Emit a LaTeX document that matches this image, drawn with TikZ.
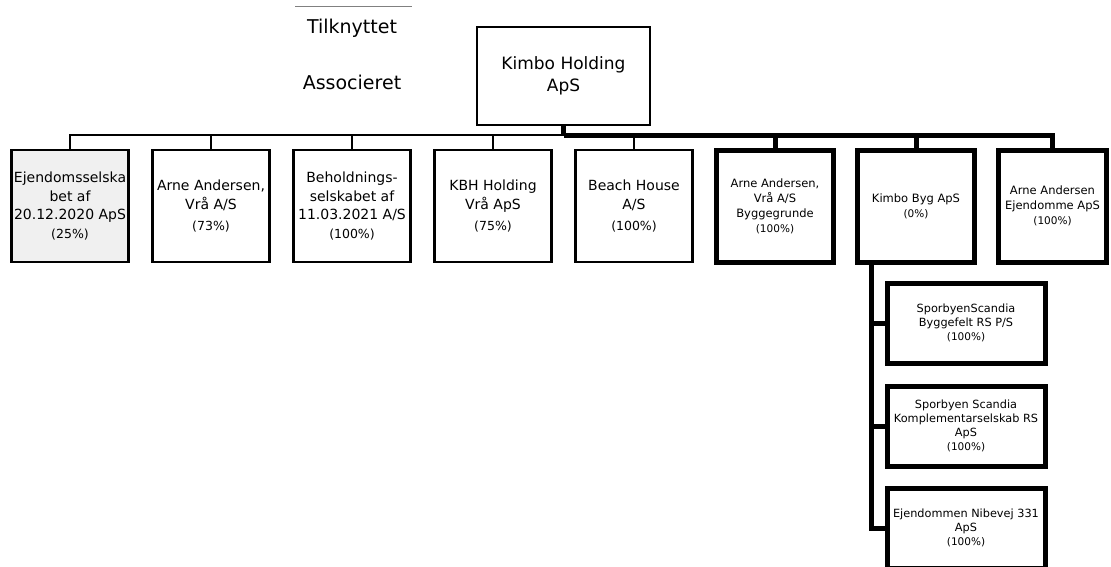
\documentclass[tikz,border=0pt]{standalone}
\usepackage{fontspec}
\setmainfont{DejaVu Sans}
\usetikzlibrary{positioning}
\newcommand{\stake}[1]{{\fontsize{12.5}{16}\selectfont(#1\%)}}
\newcommand{\substake}[1]{{\fontsize{10.5}{14}\selectfont(#1\%)}}
\tikzset{
  company/.style={rectangle, draw, line width=2.5pt, outer sep=0pt, align=center, inner sep=2pt,
    minimum width=117pt, minimum height=112pt, font=\fontsize{14}{18.5}\selectfont},
  owned/.style={company, line width=5pt, font=\fontsize{11.5}{15}\selectfont},
  sub/.style={rectangle, draw, line width=5pt, outer sep=0pt, align=center, inner sep=2pt,
    minimum width=158pt, minimum height=80pt, font=\fontsize{11.3}{14}\selectfont},
  holding/.style={rectangle, draw, line width=2pt, outer sep=0pt, align=center,
    minimum width=173pt, minimum height=98pt, font=\fontsize{17}{22}\selectfont},
  legend/.style={font=\fontsize{19}{22}\selectfont},
  line/.style={line width=2.5pt},
  thickline/.style={line width=5pt}
}
\begin{document}
\begin{tikzpicture}[x=1pt, y=-1pt, node distance=24pt and 24pt]
    \useasboundingbox (0,0) rectangle (1111,566);
    \clip (0,0) rectangle (1111,566);
    % legend
    \draw[gray, line width=0.8pt] (295,6) -- (412,6);
    \node[legend] (tilk) at (352,28) {Tilknyttet};
    \node[legend] (assoc) at (352,82) {Associeret};
    % owner
    \node[holding] (kimbo) at (563.5,76) {Kimbo Holding\\ApS};
    \coordinate[below=10pt of kimbo.south] (bus);
    % first row
    \node[company, fill=gray!12] (ejd) at (70,206) {Ejendomsselska\\bet af\\20.12.2020 ApS\\\stake{25}};
    \node[company, right=of ejd] (arne) {Arne Andersen,\\Vrå A/S\\[3pt]\stake{73}};
    \node[company, right=of arne] (behold) {Beholdnings-\\selskabet af\\11.03.2021 A/S\\\stake{100}};
    \node[company, right=of behold] (kbh) {KBH Holding\\Vrå ApS\\[3pt]\stake{75}};
    \node[company, right=of kbh] (beach) {Beach House\\A/S\\[3pt]\stake{100}};
    \node[owned, right=of beach] (byggegr) {Arne Andersen,\\Vrå A/S\\Byggegrunde\\\substake{100}};
    \node[owned, right=of byggegr] (byg) {Kimbo Byg ApS\\\substake{0}};
    \node[owned, right=of byg, minimum width=108pt] (ejdom) {Arne Andersen\\Ejendomme ApS\\\substake{100}};
    % second level
    \node[sub] (byggefelt) at (966,323) {SporbyenScandia\\Byggefelt RS P/S\\\substake{100}};
    \node[sub, below=23pt of byggefelt] (kompl) {Sporbyen Scandia\\Komplementarselskab RS\\ApS\\\substake{100}};
    \node[sub, below=22pt of kompl] (nibe) {Ejendommen Nibevej 331\\ApS\\\substake{100}};
    \coordinate (trunk) at ([xshift=-45pt]byg.south);
    % connectors
    \draw[thickline] (kimbo.south) -- (bus);
    \foreach \c in {ejd, arne, behold, kbh, beach}
      \draw[line] (bus) -| (\c.north);
    \foreach \c in {byggegr, byg, ejdom}
      \draw[thickline] (bus) -| (\c.north);
    \foreach \s in {byggefelt, kompl, nibe}
      \draw[thickline] (trunk) |- (\s.west);
\end{tikzpicture}
\end{document}
